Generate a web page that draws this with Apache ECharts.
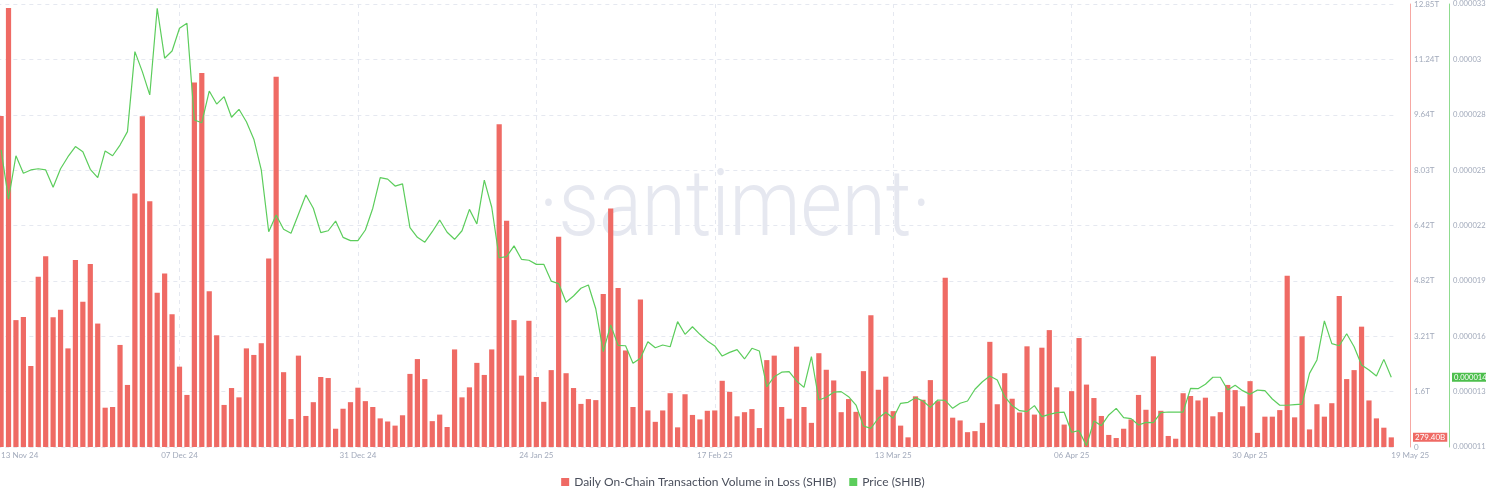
<!DOCTYPE html>
<html>
<head>
<meta charset="utf-8">
<script src="https://cdn.jsdelivr.net/npm/echarts@6/dist/echarts.min.js"></script>
<style>
html,body{margin:0;padding:0;background:#ffffff;}
#chart{width:1486px;height:502px;}
</style>
</head>
<body>
<div id="chart"></div>
<script>
// ---- data ----
const startDate = [2024, 10, 13]; // 13 Nov 2024 (UTC, month 0-based)

// Daily On-Chain Transaction Volume in Loss (SHIB), in trillions
const volumeInLossT = [
  9.60, 12.73, 3.68, 3.77, 2.35, 4.94, 5.53, 3.76, 3.98, 2.86,
  5.42, 4.21, 5.31, 3.58, 1.14, 1.16, 2.96, 1.80, 7.35, 9.59,
  7.13, 4.47, 5.03, 3.85, 2.33, 1.51, 10.57, 10.85, 4.52, 3.24,
  1.22, 1.71, 1.44, 2.86, 2.67, 3.01, 5.47, 10.74, 2.17, 0.81,
  2.65, 0.90, 1.30, 2.03, 2.00, 0.53, 1.11, 1.30, 1.72, 1.33,
  1.16, 0.83, 0.74, 0.62, 0.92, 2.12, 2.55, 1.97, 0.75, 0.94,
  0.58, 2.83, 1.44, 1.73, 2.44, 2.09, 2.83, 9.36, 6.56, 3.68,
  2.07, 3.66, 2.03, 1.31, 2.23, 6.10, 2.14, 1.71, 1.25, 1.39,
  1.36, 4.44, 6.92, 4.61, 2.80, 1.16, 4.28, 1.06, 0.73, 1.06,
  1.56, 0.57, 1.53, 0.93, 0.80, 1.05, 1.06, 1.92, 1.60, 0.89,
  1.01, 1.10, 0.55, 2.52, 2.65, 1.16, 0.82, 2.91, 1.16, 0.70,
  2.72, 2.24, 1.93, 1.01, 1.39, 1.02, 2.20, 3.82, 1.66, 2.04,
  1.04, 0.62, 0.28, 1.47, 1.37, 1.94, 1.33, 4.91, 0.85, 0.77,
  0.43, 0.46, 0.70, 3.05, 1.24, 2.14, 1.40, 1.00, 2.92, 0.94,
  2.88, 3.39, 1.73, 0.65, 1.62, 3.16, 1.81, 1.42, 0.90, 0.35,
  0.26, 0.53, 0.80, 1.51, 1.08, 2.63, 1.05, 0.32, 0.24, 1.56,
  1.48, 1.35, 1.43, 0.89, 1.01, 1.80, 1.65, 1.18, 1.91, 0.41,
  0.88, 0.88, 1.07, 4.97, 0.86, 3.21, 0.51, 1.24, 0.88, 1.27,
  4.38, 1.97, 2.23, 3.49, 1.35, 0.83, 0.56, 0.2794
];

// Price (SHIB), USD
const priceSHIB = [
  0.00002581, 0.00002328, 0.00002551, 0.00002461, 0.00002478, 0.00002484, 0.00002478, 0.00002389, 0.00002484, 0.00002546,
  0.00002598, 0.00002572, 0.00002481, 0.00002438, 0.00002576, 0.00002551, 0.00002606, 0.00002675, 0.00003087, 0.00002984,
  0.00002864, 0.00003310, 0.00003053, 0.00003090, 0.00003207, 0.00003233, 0.00002735, 0.00002721, 0.00002884, 0.00002817,
  0.00002855, 0.00002749, 0.00002790, 0.00002726, 0.00002636, 0.00002478, 0.00002160, 0.00002246, 0.00002173, 0.00002152,
  0.00002250, 0.00002349, 0.00002281, 0.00002155, 0.00002165, 0.00002215, 0.00002131, 0.00002114, 0.00002114, 0.00002169,
  0.00002281, 0.00002438, 0.00002431, 0.00002395, 0.00002406, 0.00002181, 0.00002131, 0.00002106, 0.00002160, 0.00002220,
  0.00002157, 0.00002121, 0.00002165, 0.00002275, 0.00002200, 0.00002426, 0.00002286, 0.00002026, 0.00002032, 0.00002087,
  0.00002018, 0.00002013, 0.00001992, 0.00001992, 0.00001906, 0.00001893, 0.00001797, 0.00001829, 0.00001869, 0.00001886,
  0.00001762, 0.00001543, 0.00001680, 0.00001575, 0.00001573, 0.00001483, 0.00001509, 0.00001594, 0.00001563, 0.00001577,
  0.00001568, 0.00001697, 0.00001632, 0.00001671, 0.00001632, 0.00001598, 0.00001572, 0.00001520, 0.00001539, 0.00001553,
  0.00001505, 0.00001560, 0.00001546, 0.00001362, 0.00001414, 0.00001437, 0.00001440, 0.00001392, 0.00001359, 0.00001517,
  0.00001294, 0.00001308, 0.00001334, 0.00001337, 0.00001311, 0.00001268, 0.00001160, 0.00001148, 0.00001200, 0.00001231,
  0.00001200, 0.00001277, 0.00001282, 0.00001306, 0.00001289, 0.00001256, 0.00001294, 0.00001292, 0.00001251, 0.00001277,
  0.00001289, 0.00001349, 0.00001388, 0.00001417, 0.00001397, 0.00001311, 0.00001265, 0.00001239, 0.00001234, 0.00001265,
  0.00001208, 0.00001220, 0.00001229, 0.00001231, 0.00001128, 0.00001136, 0.00001059, 0.00001186, 0.00001162, 0.00001217,
  0.00001251, 0.00001203, 0.00001198, 0.00001165, 0.00001179, 0.00001177, 0.00001229, 0.00001232, 0.00001232, 0.00001232,
  0.00001354, 0.00001352, 0.00001375, 0.00001411, 0.00001411, 0.00001345, 0.00001370, 0.00001342, 0.00001323, 0.00001345,
  0.00001342, 0.00001299, 0.00001267, 0.00001267, 0.00001270, 0.00001273, 0.00001431, 0.00001500, 0.00001701, 0.00001584,
  0.00001573, 0.00001635, 0.00001568, 0.00001474, 0.00001448, 0.00001417, 0.00001503, 0.00001411
];

// axis tick labels
const dateTickLabels = ['13 Nov 24', '07 Dec 24', '31 Dec 24', '24 Jan 25', '17 Feb 25', '13 Mar 25', '06 Apr 25', '30 Apr 25', '19 May 25'];
const dateGridLabels = ['07 Dec 24', '31 Dec 24', '24 Jan 25', '17 Feb 25', '13 Mar 25', '06 Apr 25', '30 Apr 25'];
const volumeTickLabels = ['0', '1.6T', '3.21T', '4.82T', '6.42T', '8.03T', '9.64T', '11.24T', '12.85T'];
const priceTickLabels = ['0.000011', '0.000013', '0.000016', '0.000019', '0.000022', '0.000025', '0.000028', '0.00003', '0.000033'];

const seriesNames = ['Daily On-Chain Transaction Volume in Loss (SHIB)', 'Price (SHIB)'];

// ---- build categories (daily dates) ----
const monthNames = ['Jan','Feb','Mar','Apr','May','Jun','Jul','Aug','Sep','Oct','Nov','Dec'];
const categories = volumeInLossT.map(function (_, i) {
  const d = new Date(Date.UTC(startDate[0], startDate[1], startDate[2] + i));
  const dd = String(d.getUTCDate()).padStart(2, '0');
  return dd + ' ' + monthNames[d.getUTCMonth()] + ' ' + String(d.getUTCFullYear()).slice(2);
});

// ---- axis ranges ----
const volMin = 0, volMax = 12.848, volStep = 1.606;
const priceMin = 0.00001052, priceMax = 0.00003332, priceStep = 0.00000285;

const RED = '#ef6a64';
const GREEN = '#5ccd5c';
const LABEL = '#a2aabb';
const GRID = '#e5e8f0';
const FONT = 'Lato, "Open Sans", sans-serif';

const lastVol = volumeInLossT[volumeInLossT.length - 1];
const lastPrice = priceSHIB[priceSHIB.length - 1];

const chart = echarts.init(document.getElementById('chart'), null, { renderer: 'canvas' });

chart.setOption({
  animation: false,
  backgroundColor: '#ffffff',
  textStyle: { fontFamily: FONT },
  graphic: [{
    type: 'text',
    x: 735,
    y: 212,
    scaleY: 1.15,
    z: -10,
    silent: true,
    style: {
      text: '\u00b7santiment\u00b7',
      fill: '#e6e8f0',
      fontSize: 80,
      fontFamily: 'Roboto, Lato, sans-serif',
      fontWeight: 300,
      textAlign: 'center',
      textVerticalAlign: 'middle'
    }
  }],
  legend: {
    bottom: 9,
    left: 'center',
    icon: 'rect',
    itemWidth: 8,
    itemHeight: 8,
    itemGap: 13,
    textStyle: { color: '#4a4f5c', fontSize: 12, fontFamily: FONT },
    data: seriesNames
  },
  grid: { left: -2.64, right: 91, top: 4, bottom: 55, containLabel: false, outerBoundsMode: 'none' },
  xAxis: {
    type: 'category',
    data: categories,
    boundaryGap: true,
    axisLine: { show: false },
    axisTick: { show: false },
    axisLabel: {
      interval: function (i, v) { return dateTickLabels.indexOf(v) >= 0; },
      color: LABEL,
      fontSize: 8,
      margin: 4,
      fontFamily: FONT,
      alignMinLabel: 'left',
      alignMaxLabel: 'left'
    },
    splitLine: {
      show: true,
      alignWithLabel: true,
      interval: function (i, v) { return dateGridLabels.indexOf(v) >= 0; },
      lineStyle: { color: GRID, type: [4, 4], width: 1 }
    }
  },
  yAxis: [
    {
      type: 'value',
      position: 'right',
      offset: 15,
      min: volMin,
      max: volMax,
      interval: volStep,
      axisLine: { show: true, lineStyle: { color: '#f6a8a3', width: 1 } },
      axisTick: { show: false },
      axisLabel: {
        color: LABEL, fontSize: 8, margin: 4, fontFamily: FONT,
        formatter: function (v) { return volumeTickLabels[Math.round((v - volMin) / volStep)]; }
      },
      splitLine: { show: true, lineStyle: { color: GRID, type: [4, 4], width: 1 } }
    },
    {
      type: 'value',
      position: 'right',
      offset: 54,
      min: priceMin,
      max: priceMax,
      interval: priceStep,
      axisLine: { show: true, lineStyle: { color: '#8fdc8f', width: 1 } },
      axisTick: { show: false },
      axisLabel: {
        color: LABEL, fontSize: 7.6, margin: 4, fontFamily: FONT,
        formatter: function (v) { return priceTickLabels[Math.round((v - priceMin) / priceStep)]; }
      },
      splitLine: { show: false }
    }
  ],
  series: [
    {
      name: seriesNames[0],
      type: 'bar',
      yAxisIndex: 0,
      data: volumeInLossT,
      barWidth: '70%',
      itemStyle: { color: RED },
      markLine: {
        silent: true,
        symbol: 'none',
        precision: 6,
        lineStyle: { color: 'rgba(0,0,0,0)', width: 0 },
        label: {
          show: true,
          position: 'end',
          distance: 18,
          formatter: function () { return (lastVol * 1000).toFixed(2) + 'B'; },
          color: '#ffffff',
          backgroundColor: RED,
          padding: [1, 2, 0, 2],
          fontSize: 8,
          fontFamily: FONT
        },
        data: [{ yAxis: lastVol }]
      }
    },
    {
      name: seriesNames[1],
      type: 'line',
      yAxisIndex: 1,
      data: priceSHIB,
      symbol: 'none',
      showSymbol: false,
      lineStyle: { color: GREEN, width: 1.2 },
      itemStyle: { color: GREEN },
      z: 3,
      markLine: {
        silent: true,
        symbol: 'none',
        precision: 12,
        lineStyle: { color: 'rgba(0,0,0,0)', width: 0 },
        label: {
          show: true,
          position: 'end',
          distance: 57,
          formatter: function () { return lastPrice.toFixed(6); },
          color: '#ffffff',
          backgroundColor: '#4dbf4d',
          padding: [1, 2, 0, 2],
          fontSize: 7.6,
          fontFamily: FONT
        },
        data: [{ yAxis: lastPrice }]
      }
    }
  ]
});
</script>
</body>
</html>
